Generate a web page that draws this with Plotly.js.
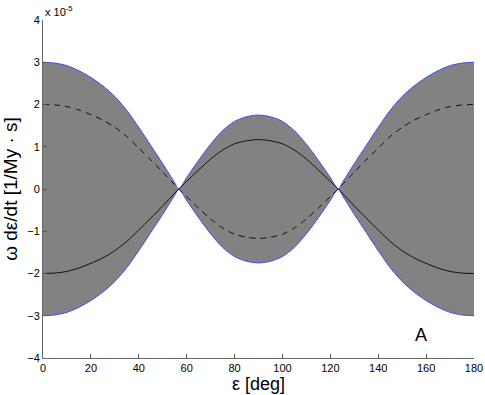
<!DOCTYPE html>
<html>
<head>
<meta charset="utf-8">
<script src="https://cdn.plot.ly/plotly-3.0.1.min.js"></script>
<style>
  html, body { margin: 0; padding: 0; background: #fff; }
  #fig { width: 485px; height: 395px; }
</style>
</head>
<body>
<div id="fig"></div>
<script>
// obliquity in deg
var eps = [0, 5, 10, 15, 20, 25, 30, 35, 40, 45, 50, 55, 56.7, 60, 65, 70, 75, 80, 85, 90,
           95, 100, 105, 110, 115, 120, 123.3, 125, 130, 135, 140, 145, 150, 155, 160, 165, 170, 175, 180];

// envelope of the family (units of 1e-5)
var envUp = [3.00, 2.98, 2.92, 2.80, 2.64, 2.44, 2.19, 1.86, 1.46, 1.03, 0.60, 0.15, 0, 0.27, 0.68, 1.06, 1.38, 1.60, 1.71, 1.75,
             1.71, 1.60, 1.38, 1.06, 0.68, 0.27, 0, 0.15, 0.60, 1.03, 1.46, 1.86, 2.19, 2.44, 2.64, 2.80, 2.92, 2.98, 3.00];
var envLo = [-3.00, -2.98, -2.92, -2.80, -2.64, -2.44, -2.19, -1.86, -1.46, -1.03, -0.60, -0.15, 0, -0.27, -0.68, -1.06, -1.38, -1.60, -1.71, -1.75,
             -1.71, -1.60, -1.38, -1.06, -0.68, -0.27, 0, -0.15, -0.60, -1.03, -1.46, -1.86, -2.19, -2.44, -2.64, -2.80, -2.92, -2.98, -3.00];

// solid and dashed curves
var solid = [-2.00, -1.99, -1.95, -1.87, -1.76, -1.63, -1.46, -1.24, -0.97, -0.69, -0.40, -0.10, 0, 0.18, 0.45, 0.71, 0.92, 1.07, 1.14, 1.17,
             1.14, 1.07, 0.92, 0.71, 0.45, 0.18, 0, -0.10, -0.40, -0.69, -0.97, -1.24, -1.46, -1.63, -1.76, -1.87, -1.95, -1.99, -2.00];
var dashed = [2.00, 1.99, 1.95, 1.87, 1.76, 1.63, 1.46, 1.24, 0.97, 0.69, 0.40, 0.10, 0, -0.18, -0.45, -0.71, -0.92, -1.07, -1.14, -1.17,
              -1.14, -1.07, -0.92, -0.71, -0.45, -0.18, 0, 0.10, 0.40, 0.69, 0.97, 1.24, 1.46, 1.63, 1.76, 1.87, 1.95, 1.99, 2.00];

var xTicks = [0, 20, 40, 60, 80, 100, 120, 140, 160, 180];
var yTicks = [-4, -3, -2, -1, 0, 1, 2, 3, 4];

var lo = {
  x: eps, y: envLo, mode: 'lines', type: 'scatter',
  line: {color: '#3a4cf5', width: 1, shape: 'spline', smoothing: 0.8},
  hoverinfo: 'none', showlegend: false
};
var up = {
  x: eps, y: envUp, mode: 'lines', type: 'scatter',
  fill: 'tonexty', fillcolor: '#828282',
  line: {color: '#3a4cf5', width: 1, shape: 'spline', smoothing: 0.8},
  hoverinfo: 'none', showlegend: false
};
var sol = {
  x: eps, y: solid, mode: 'lines', type: 'scatter',
  line: {color: '#111', width: 1, shape: 'spline', smoothing: 0.8},
  hoverinfo: 'none', showlegend: false
};
var dsh = {
  x: eps, y: dashed, mode: 'lines', type: 'scatter',
  line: {color: '#111', width: 1, dash: '6px,5px', shape: 'spline', smoothing: 0.8},
  hoverinfo: 'none', showlegend: false
};

var fam = 'Liberation Sans, Arial, sans-serif';
var fnt = {family: fam, size: 11, color: '#000'};

var layout = {
  width: 485, height: 395,
  margin: {l: 43, r: 11, t: 20, b: 37},
  paper_bgcolor: '#fff', plot_bgcolor: '#fff',
  font: fnt,
  xaxis: {
    range: [0, 180], tickvals: xTicks, ticks: 'inside', ticklen: 4, tickcolor: '#555',
    showline: true, linecolor: '#666', linewidth: 1, showgrid: false, zeroline: false,
    tickfont: fnt,
    title: {text: 'ε [deg]', font: {family: fam, size: 18, color: '#000'}, standoff: 4}
  },
  yaxis: {
    range: [-4, 4], tickvals: yTicks, ticks: 'inside', ticklen: 4, tickcolor: '#555',
    showline: true, linecolor: '#666', linewidth: 1, showgrid: false, zeroline: false,
    tickfont: fnt,
    title: {text: 'ω dε/dt [1/My · s]', font: {family: fam, size: 19, color: '#000'}, standoff: 5}
  },
  annotations: [
    {xref: 'paper', yref: 'paper', x: 0, y: 1, xanchor: 'left', yanchor: 'bottom',
     text: 'x 10<sup>-5</sup>', showarrow: false, font: {family: fam, size: 11, color: '#000'}},
    {xref: 'x', yref: 'y', x: 158, y: -3.45, text: 'A', showarrow: false,
     font: {family: fam, size: 18, color: '#000'}}
  ]
};

Plotly.newPlot('fig', [lo, up, sol, dsh], layout, {displayModeBar: false, staticPlot: true});
</script>
</body>
</html>
